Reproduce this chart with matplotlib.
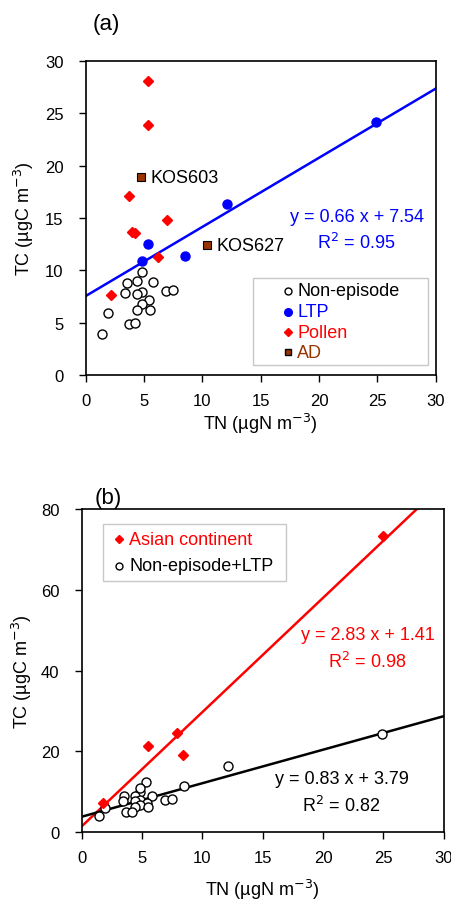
import matplotlib.pyplot as plt
import numpy as np
from matplotlib.patches import Rectangle

plt.rcParams["font.family"] = ["Liberation Sans", "DejaVu Sans"]
plt.rcParams["font.size"] = 13

BLUE = "#0000ff"
RED = "#ff0000"
BROWN = "#993300"

# (a) TN vs TC by event type
nonep_tn = [4.8, 3.5, 4.4, 5.8, 3.4, 4.8, 4.4, 5.4, 4.8, 4.4, 5.5, 3.7, 4.2, 1.4, 1.9, 6.9, 7.5]
nonep_tc = [9.8, 8.8, 9.0, 8.9, 7.8, 7.9, 7.7, 7.2, 6.8, 6.2, 6.2, 4.9, 5.0, 3.9, 5.9, 8.0, 8.1]
ltp_tn = [5.3, 4.8, 8.5, 12.1, 24.9]
ltp_tc = [12.5, 10.9, 11.4, 16.3, 24.2]
pollen_tn = [5.3, 5.3, 3.7, 4.0, 4.2, 7.0, 6.2, 2.2]
pollen_tc = [28.1, 23.9, 17.1, 13.7, 13.6, 14.8, 11.3, 7.6]
ad_tn = [4.7, 10.4]
ad_tc = [18.9, 12.4]
ad_names = ["KOS603", "KOS627"]
ltp_fit = (0.66, 7.54, 0.95)

# (b) Asian continent vs the rest
asia_tn = [1.8, 5.5, 7.9, 8.4, 25.0]
asia_tc = [7.2, 21.4, 24.5, 19.1, 73.3]
asia_fit = (2.83, 1.41, 0.98)
rest_fit = (0.83, 3.79, 0.82)
rest_tn = nonep_tn + ltp_tn
rest_tc = nonep_tc + ltp_tc

circle = dict(ls="", marker="o", mfc="white", mec="black", mew=1)


def style_axes(ax, ymax, ystep, xlab_y, ylab_x):
    ax.set_xlim(0, 30)
    ax.set_ylim(0, ymax)
    ax.set_xticks(np.arange(0, 31, 5))
    ax.set_yticks(np.arange(0, ymax + 1, ystep))
    ax.tick_params(direction="out", length=5, width=1, labelsize=12)
    ax.tick_params(axis="x", pad=8)
    ax.tick_params(axis="y", pad=11)
    for s in ax.spines.values():
        s.set_linewidth(1.2)
    ax.set_xlabel("TN (µgN m$^{-3}$)", va="center")
    ax.set_ylabel("TC (µgC m$^{-3}$)", va="center")
    ax.xaxis.set_label_coords(0.5, xlab_y)
    ax.yaxis.set_label_coords(ylab_x, 0.5)


def fit_label(ax, x, y0, y1, fit, color):
    slope, icpt, r2 = fit
    ax.text(x, y0, f"y = {slope:.2f} x + {icpt:.2f}", color=color,
            ha="center", va="center", transform=ax.transAxes)
    ax.text(x, y1, f"R$^2$ = {r2:.2f}", color=color,
            ha="center", va="center", transform=ax.transAxes)


def boxed_key(ax, box, mx, tx, rows, entries):
    # legend frame with the keys sitting well inside it
    x0, y0, x1, y1 = box
    ax.add_patch(Rectangle((x0, y0), x1 - x0, y1 - y0, transform=ax.transAxes,
                           fc="white", ec="#c8c8c8", lw=1, zorder=5))
    for y, (label, color, style) in zip(rows, entries):
        ax.plot([mx], [y], transform=ax.transAxes, clip_on=False, zorder=6, **style)
        ax.text(tx, y, label, color=color, va="center", ha="left",
                transform=ax.transAxes, zorder=6)


fig = plt.figure(figsize=(4.52, 9.03), dpi=100)
xs = np.array([0, 30])

ax1 = fig.add_axes([0.1896, 0.5836, 0.7743, 0.348])
ax1.plot(xs, ltp_fit[0] * xs + ltp_fit[1], color=BLUE, lw=1.8, zorder=2)
ax1.plot(nonep_tn, nonep_tc, ms=6.5, zorder=3, **circle)
ax1.plot(ltp_tn, ltp_tc, "o", color=BLUE, ms=6.5, zorder=4)
ax1.plot(pollen_tn, pollen_tc, "D", color=RED, ms=5.5, zorder=4)
ax1.plot(ad_tn, ad_tc, "s", mfc=BROWN, mec="black", mew=0.8, ms=5.5, zorder=4)
for x, y, name in zip(ad_tn, ad_tc, ad_names):
    ax1.annotate(name, (x, y), xytext=(7, 0), textcoords="offset points", va="center")
style_axes(ax1, 30, 5, -0.152, -0.176)
ax1.text(0.021, 1.117, "(a)", fontsize=16, transform=ax1.transAxes, ha="left", va="center")
fit_label(ax1, 0.774, 0.504, 0.422, ltp_fit, BLUE)
boxed_key(ax1, (0.477, 0.032, 0.979, 0.3077), 0.577, 0.605, [0.268, 0.202, 0.136, 0.072], [
    ("Non-episode", "black", dict(circle, ms=5)),
    ("LTP", BLUE, dict(ls="", marker="o", color=BLUE, ms=5.5)),
    ("Pollen", RED, dict(ls="", marker="D", color=RED, ms=4.5)),
    ("AD", BROWN, dict(ls="", marker="s", mfc=BROWN, mec="black", ms=5)),
])

ax2 = fig.add_axes([0.1808, 0.0775, 0.801, 0.3577])
ax2.plot(xs, asia_fit[0] * xs + asia_fit[1], color=RED, lw=1.8, zorder=2)
ax2.plot(xs, rest_fit[0] * xs + rest_fit[1], color="black", lw=1.8, zorder=2)
ax2.plot(asia_tn, asia_tc, "D", color=RED, ms=5.5, zorder=4)
ax2.plot(rest_tn, rest_tc, ms=6.5, zorder=3, **circle)
style_axes(ax2, 80, 20, -0.177, -0.165)
ax2.text(0.037, 1.037, "(b)", fontsize=16, transform=ax2.transAxes, ha="left", va="center")
fit_label(ax2, 0.789, 0.611, 0.529, asia_fit, RED)
fit_label(ax2, 0.718, 0.167, 0.083, rest_fit, "black")
boxed_key(ax2, (0.058, 0.778, 0.564, 0.954), 0.104, 0.131, [0.906, 0.824], [
    ("Asian continent", RED, dict(ls="", marker="D", color=RED, ms=4.5)),
    ("Non-episode+LTP", "black", dict(circle, ms=5)),
])

fig.savefig("out.png", dpi=100)
